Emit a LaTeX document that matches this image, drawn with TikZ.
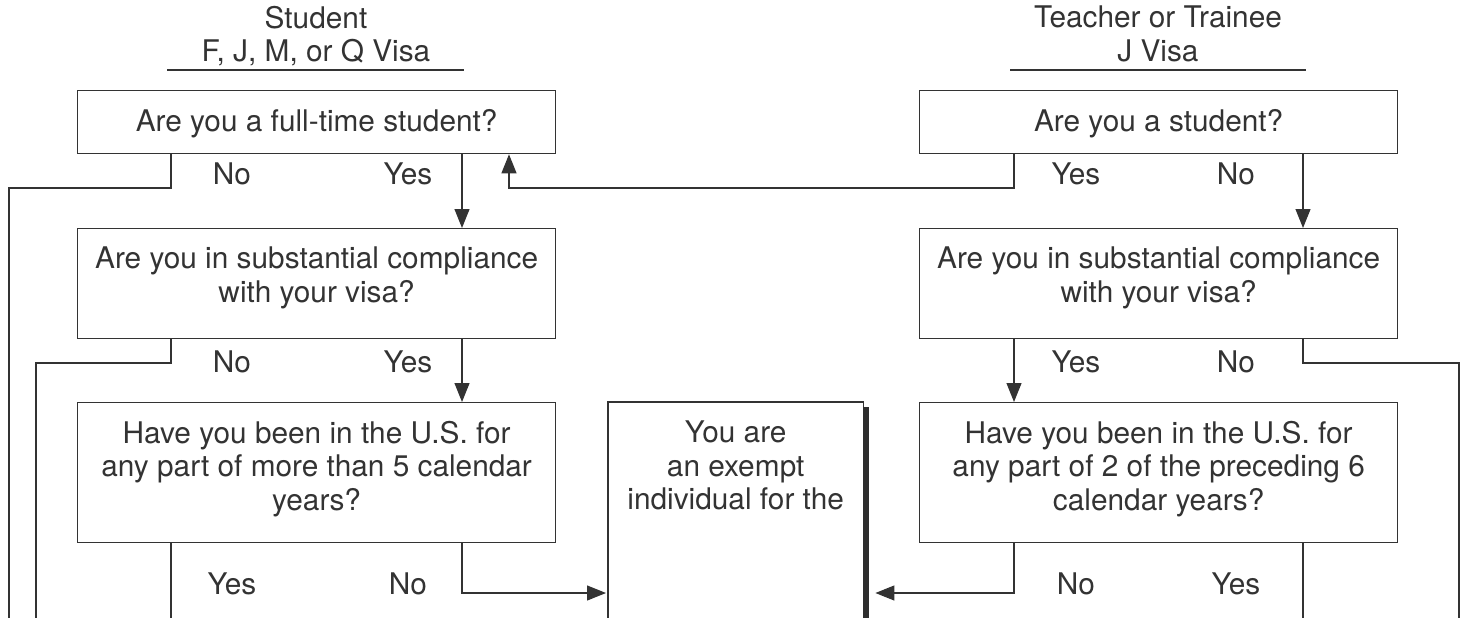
\documentclass[tikz,border=0pt]{standalone}
\usepackage{fontspec}
\setmainfont{TeX Gyre Heros}
\usetikzlibrary{arrows.meta}
\definecolor{ink}{HTML}{333333}
\tikzset{
  every picture/.style={x=1pt,y=-1pt},
  wire/.style={draw=ink, line width=1.2pt},
  arr/.style={wire, -{Triangle[length=19pt,width=15pt]}},
  qbox/.style={draw=ink, line width=1.3pt, anchor=north west, inner sep=0pt, minimum width=478pt},
  qtext/.style={anchor=north, align=center, inner sep=0pt, text=ink, font=\fontsize{29.8}{33.5}\selectfont},
  lbl/.style={anchor=base, inner sep=0pt, text=ink, font=\fontsize{29.8}{33.5}\selectfont}
}
\begin{document}
\begin{tikzpicture}
\useasboundingbox (0,0) rectangle (1461,618);
\clip (0,0) rectangle (1461,618);
% helper coordinates
\coordinate (xLA) at (171,0);
\coordinate (xLB) at (462,0);
\coordinate (xRA) at (1014,0);
\coordinate (xRB) at (1303,0);
\coordinate (xUp) at (509,0);
\coordinate (y3) at (0,593);
\coordinate (e1top) at (9,188);
\coordinate (e1bot) at (9,630);
\coordinate (e2top) at (36,363);
\coordinate (e2bot) at (36,630);
\coordinate (e3top) at (1459,363);
\coordinate (e3bot) at (1459,630);
\coordinate (e4bot) at (171,630);
\coordinate (e5bot) at (1303,630);
\coordinate (uturn) at (509,188);

% headers
\node[qtext] (hL) at (316,6) {Student\\F, J, M, or Q Visa};
\node[qtext] (hR) at (1158,6) {Teacher or Trainee\\J Visa};
\draw[wire] (167,70) -- (464,70);
\draw[wire] (1010,70) -- (1306,70);

% left column boxes
\node[qbox, minimum height=63pt] (L1) at (77,90) {};
\node[qbox, minimum height=110pt] (L2) at (77,228) {};
\node[qbox, minimum height=140pt] (L3) at (77,402) {};
\node[qtext] (L1t) at ([yshift=-19pt]L1.north) {Are you a full-time student?};
\node[qtext] (L2t) at ([yshift=-19pt]L2.north) {Are you in substantial compliance\\with your visa?};
\node[qtext] (L3t) at ([yshift=-19pt]L3.north) {Have you been in the U.S. for\\any part of more than 5 calendar\\years?};

% right column boxes
\node[qbox, minimum height=63pt] (R1) at (919,90) {};
\node[qbox, minimum height=110pt] (R2) at (919,228) {};
\node[qbox, minimum height=140pt] (R3) at (919,402) {};
\node[qtext] (R1t) at ([yshift=-19pt]R1.north) {Are you a student?};
\node[qtext] (R2t) at ([yshift=-19pt]R2.north) {Are you in substantial compliance\\with your visa?};
\node[qtext] (R3t) at ([yshift=-19pt]R3.north) {Have you been in the U.S. for\\any part of 2 of the preceding 6\\calendar years?};

% centre result box (open at bottom)
\node[anchor=north west, inner sep=0pt, minimum width=255pt, minimum height=228pt] (C) at (608,402) {};
\draw[draw=ink, line width=1.3pt] (C.south west) -- (C.north west) -- (C.north east) -- (C.south east);
\fill[ink!90!black] ([yshift=-5pt]C.north east) rectangle ([xshift=6pt]C.south east);
\node[qtext] (Ct) at ([yshift=-19pt]C.north) {You are\\an exempt\\individual for the};

% labels
\node[lbl] (l1n) at (232,184) {No};
\node[lbl] (l1y) at (408,184) {Yes};
\node[lbl] (r1y) at (1076,184) {Yes};
\node[lbl] (r1n) at (1236,184) {No};
\node[lbl] (l2n) at (232,372) {No};
\node[lbl] (l2y) at (408,372) {Yes};
\node[lbl] (r2y) at (1076,372) {Yes};
\node[lbl] (r2n) at (1236,372) {No};
\node[lbl] (l3y) at (232,594) {Yes};
\node[lbl] (l3n) at (408,594) {No};
\node[lbl] (r3n) at (1076,594) {No};
\node[lbl] (r3y) at (1236,594) {Yes};

% connectors
\draw[wire] (L1.south -| xLA) |- (e1top) -- (e1bot);
\draw[arr] (L1.south -| xLB) -- (L2.north -| xLB);
\draw[arr] (R1.south -| xRA) |- (uturn) -- (L1.south -| xUp);
\draw[arr] (R1.south -| xRB) -- (R2.north -| xRB);
\draw[wire] (L2.south -| xLA) |- (e2top) -- (e2bot);
\draw[arr] (L2.south -| xLB) -- (L3.north -| xLB);
\draw[arr] (R2.south -| xRA) -- (R3.north -| xRA);
\draw[wire] (R2.south -| xRB) |- (e3top) -- (e3bot);
\draw[wire] (L3.south -| xLA) -- (e4bot);
\draw[arr, shorten >=2pt] (L3.south -| xLB) |- (y3 -| C.west);
\draw[wire] (R3.south -| xRB) -- (e5bot);
\draw[arr, shorten >=12pt] (R3.south -| xRA) |- (y3 -| C.east);
\end{tikzpicture}
\end{document}
